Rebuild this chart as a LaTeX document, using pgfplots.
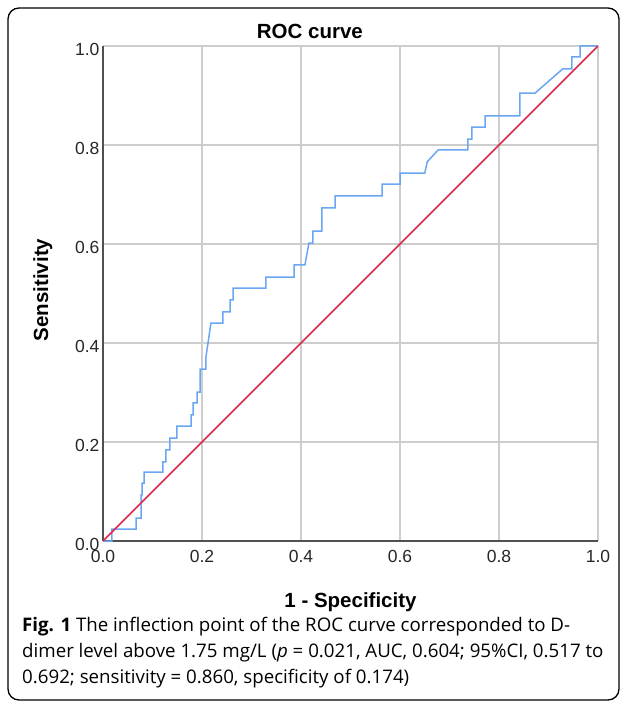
\documentclass[border=0pt]{standalone}
\usepackage{fontspec}
\setmainfont{Open Sans}
\newfontfamily\arial{Liberation Sans}
\usepackage{pgfplots}
\pgfplotsset{compat=1.18}
\definecolor{roc}{HTML}{6AA6F2}
\definecolor{refl}{HTML}{E3264F}
\definecolor{gridc}{HTML}{CDCDCD}
\definecolor{axc}{HTML}{505050}
\begin{document}
\begin{tikzpicture}
\path[use as bounding box] (0pt,0pt) rectangle (627pt,-708pt);
\draw[line width=1.3pt, rounded corners=11pt] (8pt,-8pt) rectangle (619pt,-700pt);
\begin{axis}[
  at={(103pt,-541pt)}, anchor=south west,
  scale only axis, width=495pt, height=495pt,
  xmin=0, xmax=1, ymin=0, ymax=1,
  xtick={0,0.2,0.4,0.6,0.8,1}, ytick={0,0.2,0.4,0.6,0.8,1},
  axis x line*=bottom, axis y line*=left,
  axis line style={axc, line width=1.1pt},
  major tick length=0pt,
  grid=major, major grid style={gridc, line width=1.1pt},
  /pgf/number format/.cd, fixed, fixed zerofill, precision=1, assume math mode=true,
  /pgfplots/.cd,
  ticklabel style={font=\arial\fontsize{17.5}{20}\selectfont, text=black!85},
  xticklabel style={yshift=-6pt},
  yticklabel style={yshift=-3pt},
  title={ROC curve},
  title style={font=\arial\bfseries\fontsize{20.5}{24}\selectfont, at={(axis description cs:0.418,1.017)}, anchor=center},
  xlabel={1 - Specificity},
  xlabel style={font=\arial\bfseries\fontsize{20.5}{24}\selectfont, at={(axis description cs:0.5,-0.135)}, anchor=base},
  ylabel={Sensitivity},
  ylabel style={font=\arial\bfseries\fontsize{20.5}{24}\selectfont, at={(axis description cs:-0.111,0.507)}, anchor=base, rotate=0},
]
\addplot[roc, line width=1.5pt] coordinates {
(0,0) (0.018,0) (0.018,0.024) (0.067,0.024) (0.067,0.046) (0.077,0.046)
(0.077,0.093) (0.079,0.093) (0.079,0.117) (0.083,0.117) (0.083,0.139)
(0.121,0.139) (0.121,0.160) (0.127,0.160) (0.127,0.184) (0.135,0.184)
(0.135,0.208) (0.149,0.208) (0.149,0.232) (0.178,0.232) (0.178,0.255)
(0.182,0.255) (0.182,0.279) (0.190,0.279) (0.190,0.301) (0.196,0.301)
(0.196,0.347) (0.208,0.347) (0.208,0.372) (0.218,0.440) (0.242,0.440)
(0.242,0.463) (0.257,0.463) (0.257,0.487) (0.263,0.487) (0.263,0.511)
(0.329,0.511) (0.329,0.533) (0.386,0.533) (0.386,0.558) (0.408,0.558)
(0.416,0.602) (0.424,0.602) (0.424,0.626) (0.442,0.626) (0.442,0.673)
(0.469,0.673) (0.469,0.697) (0.564,0.697) (0.564,0.721) (0.600,0.721)
(0.600,0.743) (0.650,0.743) (0.655,0.766) (0.677,0.790) (0.737,0.790)
(0.737,0.812) (0.745,0.812) (0.745,0.836) (0.772,0.836) (0.772,0.859)
(0.842,0.859) (0.842,0.905) (0.873,0.905) (0.929,0.954) (0.947,0.954)
(0.947,0.978) (0.964,0.978) (0.964,1) (1,1)
};
\addplot[refl, line width=1.5pt] coordinates {(0,0) (1,1)};
\end{axis}
\begin{scope}[every node/.style={anchor=base west, inner sep=0pt, font=\fontsize{18.7}{26}\selectfont}]
\node at (22pt,-631pt) {\textbf{Fig. 1} The inflection point of the ROC curve corresponded to D-};
\node at (22pt,-657pt) {dimer level above 1.75 mg/L (\textit{p} = 0.021, AUC, 0.604; 95\%CI, 0.517 to};
\node at (22pt,-683pt) {0.692; sensitivity = 0.860, specificity of 0.174)};
\end{scope}
\end{tikzpicture}
\end{document}
